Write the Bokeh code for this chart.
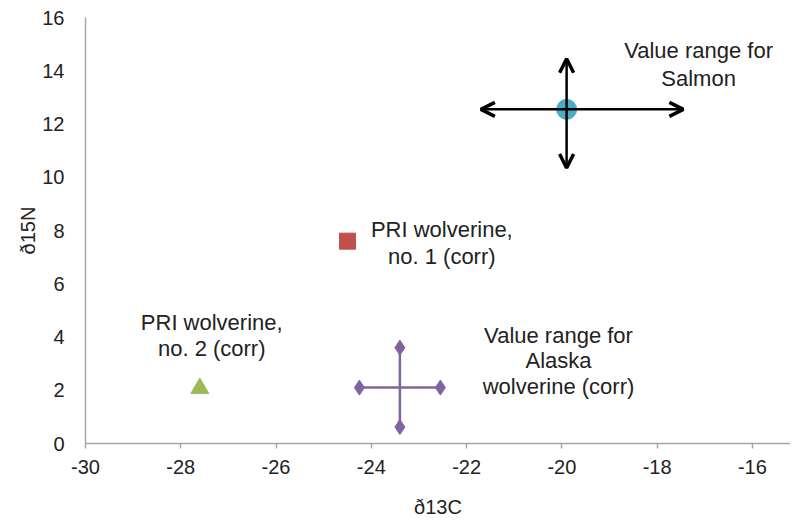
from bokeh.plotting import figure
from bokeh.models import ColumnDataSource, Arrow, OpenHead, Range1d, FixedTicker
from bokeh.core.properties import value
from bokeh.embed import file_html
from bokeh.resources import INLINE

# ---- data ----
salmon_x = [-19.9]
salmon_y = [12.55]
salmon_x_range = [-21.7, -17.45]
salmon_y_range = [10.35, 14.45]

pri1_x = [-24.5]
pri1_y = [7.6]

pri2_x = [-27.6]
pri2_y = [2.07]

alaska_x = [-23.4]
alaska_y = [2.1]
alaska_x_range = [-24.25, -22.55]
alaska_y_range = [0.62, 3.6]

x_ticks = [-30, -28, -26, -24, -22, -20, -18, -16]
y_ticks = [0, 2, 4, 6, 8, 10, 12, 14, 16]

label_text = ["Value range for", "Salmon",
              "PRI wolverine,", "no. 1 (corr)",
              "PRI wolverine,", "no. 2 (corr)",
              "Value range for", "Alaska", "wolverine (corr)"]
label_x = [-17.13, -17.13, -22.52, -22.52, -27.35, -27.35, -20.07, -20.07, -20.07]
label_y = [14.75, 13.7, 8.02, 7.03, 4.55, 3.55, 4.05, 3.12, 2.15]

FONT = "Liberation Sans"

p = figure(width=790, height=520, x_range=Range1d(-30, -15.2), y_range=Range1d(0, 16),
           output_backend="svg", toolbar_location=None,
           min_border_left=85, min_border_top=17, min_border_bottom=75, min_border_right=0)
p.outline_line_color = None
p.xgrid.grid_line_color = None
p.ygrid.grid_line_color = None

# axes
p.xaxis.ticker = FixedTicker(ticks=x_ticks)
p.yaxis.ticker = FixedTicker(ticks=y_ticks)
p.xaxis.major_label_overrides = {t: str(t) for t in x_ticks}
p.yaxis.major_label_overrides = {t: str(t) for t in y_ticks}
for ax in (p.xaxis[0], p.yaxis[0]):
    ax.axis_line_color = "#a6a6a6"
    ax.axis_line_width = 1.5
    ax.major_tick_line_color = "#a6a6a6"
    ax.major_tick_line_width = 1.5
    ax.minor_tick_line_color = None
    ax.major_label_text_font = FONT
    ax.major_label_text_font_size = "20px"
    ax.major_label_text_color = "#222222"
    ax.axis_label_text_font = FONT
    ax.axis_label_text_font_size = "20px"
    ax.axis_label_text_font_style = "normal"
    ax.axis_label_text_color = "#222222"
p.xaxis.major_tick_out = 5
p.xaxis.major_tick_in = 0
p.xaxis.major_label_standoff = 11
p.xaxis.axis_label = "ð13C"
p.xaxis.axis_label_standoff = 19
p.yaxis.major_tick_out = 0
p.yaxis.major_tick_in = 0
p.yaxis.major_label_standoff = 21
p.yaxis.axis_label = "ð15N"
p.yaxis.axis_label_standoff = 0

# salmon point and range arrows
p.scatter(salmon_x, salmon_y, marker="circle", size=20, fill_color="#4bacc6",
          line_color="#4bacc6")
arrow_src = ColumnDataSource(dict(
    xs=[salmon_x[0], salmon_x[0], salmon_x[0], salmon_x[0]],
    ys=[salmon_y[0], salmon_y[0], salmon_y[0], salmon_y[0]],
    xe=[salmon_x_range[0], salmon_x_range[1], salmon_x[0], salmon_x[0]],
    ye=[salmon_y[0], salmon_y[0], salmon_y_range[0], salmon_y_range[1]],
))
p.add_layout(Arrow(end=OpenHead(size=14, line_width=3.5, line_color="black"),
                   x_start="xs", y_start="ys", x_end="xe", y_end="ye",
                   source=arrow_src, line_width=2.5, line_color="black"))

# PRI wolverines
p.scatter(pri1_x, pri1_y, marker="square", size=16, fill_color="#c0504d",
          line_color="#c0504d")
p.scatter(pri2_x, pri2_y, marker="triangle", size=18, fill_color="#9bbb59",
          line_color="#9bbb59")

# Alaska wolverine range
p.segment(x0=[alaska_x_range[0], alaska_x[0]], y0=[alaska_y[0], alaska_y_range[0]],
          x1=[alaska_x_range[1], alaska_x[0]], y1=[alaska_y[0], alaska_y_range[1]],
          line_color="#8064a2", line_width=2.5)
p.scatter([alaska_x_range[0], alaska_x_range[1], alaska_x[0], alaska_x[0]],
          [alaska_y[0], alaska_y[0], alaska_y_range[0], alaska_y_range[1]],
          marker="diamond", size=15, fill_color="#8064a2", line_color="#8064a2")

# labels
p.text(x=label_x, y=label_y, text=label_text, text_font=value(FONT),
       text_font_size="22px", text_align="center", text_baseline="middle",
       text_color="#222222")

open("out.html", "w").write(file_html(p, INLINE))
